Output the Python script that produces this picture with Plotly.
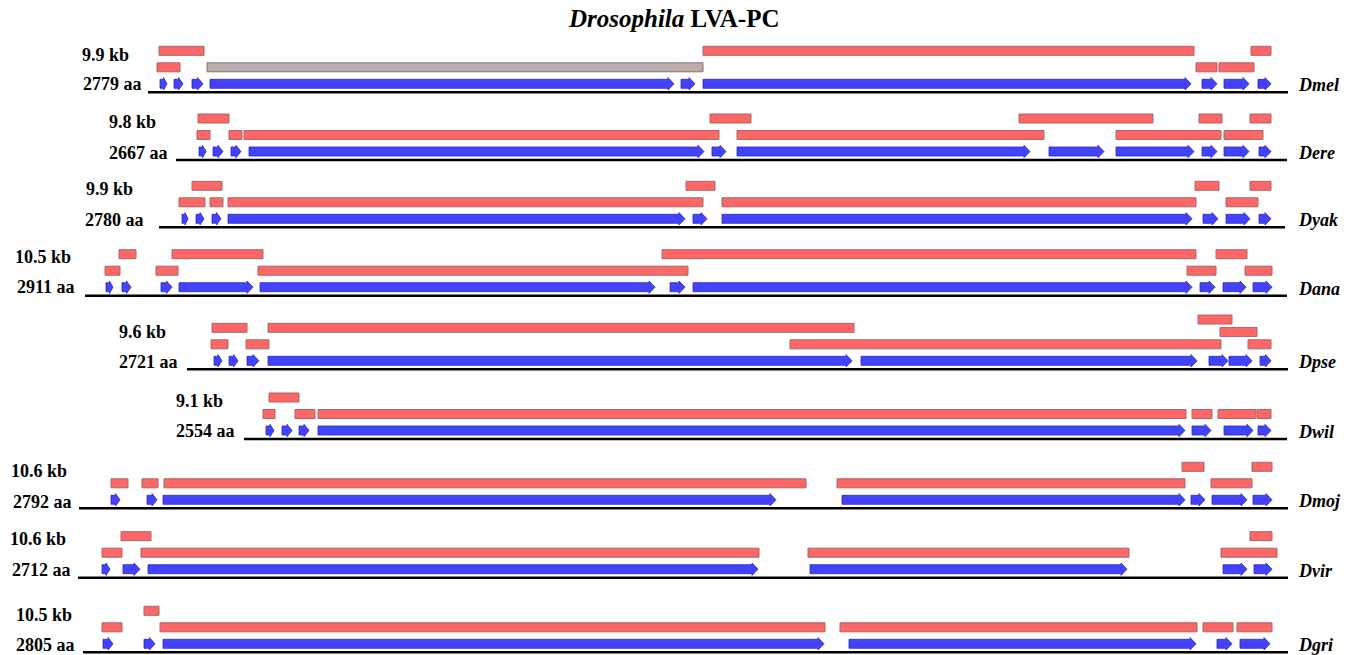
import plotly.graph_objects as go

# ---------------- data (map coordinates) ----------------
species = ["Dmel", "Dere", "Dyak", "Dana", "Dpse", "Dwil", "Dmoj", "Dvir", "Dgri"]
kb_labels = ["9.9 kb", "9.8 kb", "9.9 kb", "10.5 kb", "9.6 kb", "9.1 kb", "10.6 kb", "10.6 kb", "10.5 kb"]
aa_labels = ["2779 aa", "2667 aa", "2780 aa", "2911 aa", "2721 aa", "2554 aa", "2792 aa", "2712 aa", "2805 aa"]

# genomic span (baseline) of each gene
span_start = [148, 176, 159, 85, 187, 244, 79, 78, 83]
span_end = [1288, 1287, 1285, 1287, 1288, 1287, 1288, 1288, 1288]

# exons (blue arrows): start, end
exons_dmel = [(160, 167), (174, 183), (192, 203), (210, 674), (681, 695), (703, 1191),
              (1202, 1217), (1224, 1249), (1258, 1271)]
exons_dere = [(199, 206), (213, 223), (231, 241), (249, 704), (712, 726), (737, 1030),
              (1049, 1104), (1116, 1194), (1202, 1217), (1224, 1249), (1259, 1271)]
exons_dyak = [(182, 188), (196, 204), (212, 221), (228, 685), (693, 707), (722, 1192),
              (1203, 1218), (1226, 1250), (1259, 1271)]
exons_dana = [(106, 113), (122, 131), (161, 172), (179, 253), (260, 655), (670, 685),
              (693, 1192), (1200, 1215), (1223, 1246), (1253, 1272)]
exons_dpse = [(214, 222), (229, 238), (247, 259), (268, 852), (861, 1197), (1209, 1228),
              (1229, 1252), (1260, 1271)]
exons_dwil = [(266, 274), (282, 292), (299, 309), (318, 1185), (1192, 1211), (1224, 1253),
              (1258, 1271)]
exons_dmoj = [(111, 120), (147, 157), (163, 776), (842, 1185), (1191, 1205), (1212, 1247),
              (1253, 1272)]
exons_dvir = [(102, 110), (123, 140), (148, 758), (810, 1127), (1223, 1247), (1254, 1272)]
exons_dgri = [(103, 113), (144, 155), (163, 824), (849, 1196), (1217, 1232), (1240, 1270)]

# open reading frames (red bars): start, end, stacking level above the exons
orfs_dmel = [(159, 204, 2), (703, 1194, 2), (1251, 1271, 2),
             (157, 180, 1), (1196, 1217, 1), (1219, 1254, 1)]
orfs_dere = [(198, 229, 2), (710, 751, 2), (1019, 1153, 2), (1199, 1222, 2), (1250, 1271, 2),
             (197, 210, 1), (229, 242, 1), (244, 719, 1), (737, 1044, 1), (1116, 1221, 1),
             (1224, 1263, 1)]
orfs_dyak = [(192, 222, 2), (686, 715, 2), (1195, 1219, 2), (1250, 1271, 2),
             (179, 205, 1), (210, 223, 1), (228, 703, 1), (722, 1196, 1), (1226, 1258, 1)]
orfs_dana = [(119, 136, 2), (172, 263, 2), (662, 1196, 2), (1216, 1247, 2),
             (105, 120, 1), (156, 178, 1), (258, 688, 1), (1187, 1216, 1), (1245, 1272, 1)]
orfs_dpse = [(212, 247, 2), (268, 854, 2), (1198, 1232, 2.5), (1220, 1257, 1.75),
             (211, 228, 1), (246, 269, 1), (790, 1221, 1), (1248, 1271, 1)]
orfs_dwil = [(269, 299, 2),
             (263, 275, 1), (295, 315, 1), (318, 1186, 1), (1192, 1212, 1), (1218, 1256, 1),
             (1257, 1271, 1)]
orfs_dmoj = [(1182, 1204, 2), (1252, 1272, 2),
             (111, 128, 1), (142, 158, 1), (164, 806, 1), (837, 1185, 1), (1211, 1252, 1)]
orfs_dvir = [(121, 151, 2), (1250, 1272, 2),
             (102, 122, 1), (141, 759, 1), (808, 1129, 1), (1221, 1277, 1)]
orfs_dgri = [(144, 159, 2),
             (102, 122, 1), (160, 825, 1), (840, 1197, 1), (1203, 1233, 1), (1237, 1272, 1)]

# region without ORF support (grey bar): start, end, level
grey_dmel = [(207, 703, 1)]

exons = [exons_dmel, exons_dere, exons_dyak, exons_dana, exons_dpse,
         exons_dwil, exons_dmoj, exons_dvir, exons_dgri]
orfs = [orfs_dmel, orfs_dere, orfs_dyak, orfs_dana, orfs_dpse,
        orfs_dwil, orfs_dmoj, orfs_dvir, orfs_dgri]
greys = [grey_dmel, [], [], [], [], [], [], [], []]

# ---------------- layout (not data) ----------------
row_base = [92.3, 160, 227.3, 295.7, 369.3, 439, 508.3, 577.7, 652.3]
kb_pos = [(80, 55), (107, 122), (84, 189), (13, 257), (117, 332), (174, 401),
          (9, 471), (8, 539), (14, 615)]
aa_pos = [(81, 84), (107, 153), (83, 220), (15, 287), (117, 362), (174, 431),
          (11, 502), (10, 570), (14, 645)]

BLUE = "rgb(66,66,255)"
BLUE_LINE = "rgb(40,40,190)"
RED = "rgb(255,102,102)"
RED_LINE = "rgb(165,105,105)"
GREY = "rgb(188,172,172)"
GREY_LINE = "rgb(130,115,115)"
FONT = "Liberation Serif"

EXON_OFF = 8.5
LEVEL_STEP = 16.5
BAR_H = 4.5
BODY_H = 4.5
HEAD_H = 6.2

fig = go.Figure()
# invisible trace so the axes exist
fig.add_trace(go.Scatter(x=[0, 1354], y=[0, 655], mode="markers",
                         marker=dict(opacity=0), hoverinfo="skip", showlegend=False))

shapes = []
for i, sp in enumerate(species):
    b = row_base[i]
    # baseline
    shapes.append(dict(type="line", xref="x", yref="y", x0=span_start[i], x1=span_end[i],
                       y0=b, y1=b, line=dict(color="black", width=2.4)))
    # ORF bars
    for (s, e, lev) in orfs[i]:
        yc = b - EXON_OFF - LEVEL_STEP * lev
        shapes.append(dict(type="rect", xref="x", yref="y", x0=s, x1=e,
                           y0=yc - BAR_H, y1=yc + BAR_H, fillcolor=RED,
                           line=dict(color=RED_LINE, width=1)))
    for (s, e, lev) in greys[i]:
        yc = b - EXON_OFF - LEVEL_STEP * lev
        shapes.append(dict(type="rect", xref="x", yref="y", x0=s, x1=e,
                           y0=yc - BAR_H, y1=yc + BAR_H, fillcolor=GREY,
                           line=dict(color=GREY_LINE, width=1)))
    # exon arrows
    yc = b - EXON_OFF
    for (s, e) in exons[i]:
        w = e - s
        head = min(6.0, w * 0.5)
        xh = e - head
        path = (f"M {s},{yc - BODY_H} L {xh},{yc - BODY_H} L {xh},{yc - HEAD_H} "
                f"L {e},{yc} L {xh},{yc + HEAD_H} L {xh},{yc + BODY_H} L {s},{yc + BODY_H} Z")
        shapes.append(dict(type="path", xref="x", yref="y", path=path, fillcolor=BLUE,
                           line=dict(color=BLUE_LINE, width=0.8)))

annotations = []
for i, sp in enumerate(species):
    annotations.append(dict(x=kb_pos[i][0], y=kb_pos[i][1], xref="x", yref="y",
                            text=f"<b>{kb_labels[i]}</b>", showarrow=False,
                            xanchor="left", yanchor="middle",
                            font=dict(family=FONT, size=18, color="black")))
    annotations.append(dict(x=aa_pos[i][0], y=aa_pos[i][1], xref="x", yref="y",
                            text=f"<b>{aa_labels[i]}</b>", showarrow=False,
                            xanchor="left", yanchor="middle",
                            font=dict(family=FONT, size=18, color="black")))
    annotations.append(dict(x=1296, y=row_base[i] - 7, xref="x", yref="y",
                            text=f"<b><i>{sp}</i></b>", showarrow=False,
                            xanchor="left", yanchor="middle",
                            font=dict(family=FONT, size=18, color="black")))

annotations.append(dict(x=673, y=18, xref="x", yref="y",
                        text="<b><i>Drosophila</i> LVA-PC</b>", showarrow=False,
                        xanchor="center", yanchor="middle",
                        font=dict(family=FONT, size=25, color="black")))

fig.update_layout(
    width=1354, height=655,
    margin=dict(l=0, r=0, t=0, b=0),
    paper_bgcolor="white", plot_bgcolor="white",
    xaxis=dict(range=[0, 1354], visible=False, fixedrange=True),
    yaxis=dict(range=[655, 0], visible=False, fixedrange=True),
    shapes=shapes, annotations=annotations, showlegend=False,
)

fig.write_html("out.html", config={"displayModeBar": False},
               post_script="document.body.style.margin='0';document.body.style.overflow='hidden';")
